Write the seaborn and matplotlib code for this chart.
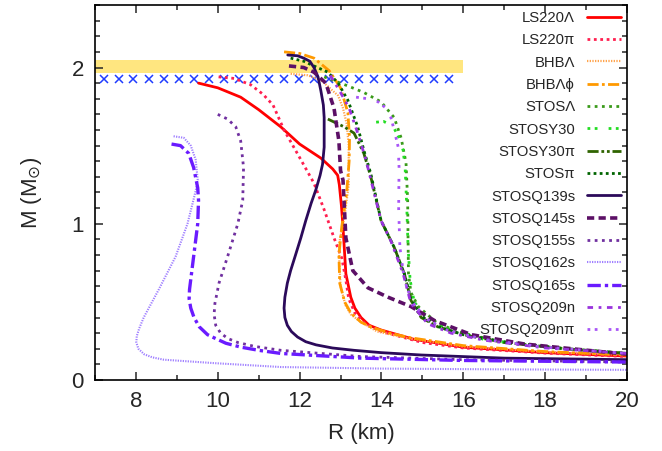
import numpy as np
import pandas as pd
import matplotlib
matplotlib.use("Agg")
import matplotlib.pyplot as plt
import seaborn as sns

# mass-radius curves, R in km, M in solar masses
ls220_lam_R = [9.53, 10.0, 10.56, 11.0, 11.54, 12.0, 12.52, 12.81, 12.93, 12.97, 13.02, 13.06, 13.13, 13.25, 13.35, 13.5, 13.7, 13.99, 14.8, 16.0, 18.0, 20.0]
ls220_lam_M = [1.90, 1.87, 1.81, 1.73, 1.62, 1.51, 1.42, 1.35, 1.31, 1.25, 1.12, 0.98, 0.68, 0.53, 0.46, 0.40, 0.35, 0.32, 0.26, 0.21, 0.175, 0.153]

ls220_pi_R = [10.02, 10.4, 10.8, 11.1, 11.35, 11.62, 12.03, 12.35, 12.6, 12.84, 13.03, 13.13, 13.2, 13.35, 13.6, 14.0, 15.0, 16.0, 18.0, 20.0]
ls220_pi_M = [1.94, 1.93, 1.89, 1.83, 1.76, 1.60, 1.41, 1.26, 1.09, 0.91, 0.78, 0.64, 0.52, 0.43, 0.36, 0.31, 0.24, 0.205, 0.172, 0.15]

bhb_lam_R = [11.78, 12.2, 12.52, 12.94, 13.06, 13.15, 13.2, 13.2, 13.1, 12.97, 12.97, 13.0, 13.12, 13.25, 13.5, 13.9, 14.7, 16.0, 18.0, 20.0]
bhb_lam_M = [1.96, 1.95, 1.92, 1.82, 1.74, 1.64, 1.50, 1.25, 1.05, 0.88, 0.75, 0.60, 0.48, 0.42, 0.37, 0.31, 0.265, 0.215, 0.18, 0.16]

bhb_lamphi_R = [11.62, 12.0, 12.35, 12.72, 13.0, 13.18, 13.22, 13.21, 13.15, 13.03, 12.96, 12.98, 13.1, 13.25, 13.5, 13.74, 14.2, 14.72, 16.0, 18.0, 20.0]
bhb_lamphi_M = [2.10, 2.09, 2.06, 1.98, 1.87, 1.71, 1.55, 1.40, 1.20, 0.98, 0.80, 0.62, 0.50, 0.43, 0.37, 0.34, 0.30, 0.27, 0.22, 0.182, 0.16]

stos_lam_R = [12.6, 12.8, 13.2, 13.57, 13.99, 14.31, 14.48, 14.6, 14.64, 14.65, 14.66, 14.72, 14.9, 15.38, 16.0, 17.0, 18.5, 20.0]
stos_lam_M = [1.94, 1.92, 1.88, 1.84, 1.78, 1.68, 1.55, 1.39, 1.15, 0.90, 0.68, 0.56, 0.47, 0.36, 0.30, 0.24, 0.20, 0.17]

stosy30_R = [13.87, 14.05, 14.17, 14.31, 14.43, 14.53, 14.58, 14.62, 14.65, 14.7, 14.8, 15.1, 15.6, 16.5, 18.0, 20.0]
stosy30_M = [1.65, 1.655, 1.64, 1.61, 1.55, 1.47, 1.35, 1.10, 0.85, 0.64, 0.50, 0.40, 0.33, 0.26, 0.21, 0.17]

stosy30_pi_R = [12.69, 13.09, 13.33, 13.57, 13.74, 13.99, 14.31, 14.56, 14.72, 14.97, 15.38, 16.0, 17.0, 18.5, 20.0]
stosy30_pi_M = [1.67, 1.62, 1.58, 1.45, 1.30, 1.02, 0.85, 0.68, 0.51, 0.40, 0.34, 0.29, 0.24, 0.20, 0.17]

stos_pi_R = [11.78, 12.1, 12.35, 12.69, 12.94, 13.18, 13.42, 13.57, 13.74, 13.99, 14.31, 14.56, 14.72, 14.97, 15.4, 16.0, 17.0, 18.5, 20.0]
stos_pi_M = [2.06, 2.04, 2.01, 1.97, 1.90, 1.79, 1.62, 1.47, 1.32, 1.02, 0.85, 0.68, 0.52, 0.41, 0.34, 0.29, 0.245, 0.20, 0.17]

stosq139s_R = [11.71, 11.95, 12.1, 12.25, 12.35, 12.45, 12.52, 12.58, 12.6, 12.6, 12.56, 12.5, 12.4, 12.28, 12.15, 12.03, 11.9, 11.78, 11.7, 11.64, 11.62, 11.64, 11.7, 11.8, 11.95, 12.15, 12.4, 12.8, 13.33, 14.0, 14.97, 17.0, 20.0]
stosq139s_M = [2.08, 2.075, 2.06, 2.04, 2.0, 1.94, 1.85, 1.76, 1.68, 1.49, 1.38, 1.31, 1.22, 1.13, 1.02, 0.91, 0.80, 0.70, 0.62, 0.53, 0.46, 0.40, 0.35, 0.31, 0.275, 0.245, 0.225, 0.205, 0.19, 0.175, 0.16, 0.14, 0.13]

stosq145s_R = [11.74, 12.1, 12.35, 12.64, 12.84, 12.96, 13.0, 13.06, 13.13, 13.3, 13.67, 14.16, 14.72, 15.3, 16.2, 17.5, 20.0]
stosq145s_M = [2.01, 2.0, 1.97, 1.90, 1.74, 1.53, 1.34, 1.28, 0.91, 0.70, 0.59, 0.53, 0.47, 0.38, 0.29, 0.23, 0.165]

stosq155s_R = [10.0, 10.24, 10.44, 10.56, 10.63, 10.61, 10.49, 10.24, 10.03, 9.93, 9.91, 9.95, 10.07, 10.25, 10.49, 10.9, 11.54, 13.5, 16.0, 20.0]
stosq155s_M = [1.70, 1.67, 1.62, 1.53, 1.36, 1.15, 1.0, 0.79, 0.62, 0.49, 0.42, 0.35, 0.30, 0.265, 0.24, 0.215, 0.19, 0.15, 0.13, 0.115]

stosq162s_R = [8.92, 9.17, 9.34, 9.46, 9.51, 9.46, 9.26, 8.97, 8.56, 8.19, 8.08, 8.02, 8.01, 8.06, 8.2, 8.4, 8.68, 9.91, 11.54, 14.0, 17.0, 20.0]
stosq162s_M = [1.56, 1.55, 1.50, 1.41, 1.28, 1.21, 1.0, 0.79, 0.58, 0.40, 0.33, 0.28, 0.24, 0.20, 0.165, 0.145, 0.13, 0.108, 0.083, 0.073, 0.068, 0.065]

stosq165s_R = [8.87, 9.09, 9.29, 9.41, 9.51, 9.53, 9.51, 9.41, 9.31, 9.3, 9.34, 9.42, 9.55, 9.75, 9.91, 10.2, 10.57, 11.0, 11.54, 13.5, 16.0, 20.0]
stosq165s_M = [1.51, 1.50, 1.45, 1.36, 1.23, 1.15, 1.0, 0.79, 0.58, 0.52, 0.46, 0.40, 0.34, 0.29, 0.27, 0.235, 0.21, 0.19, 0.17, 0.14, 0.125, 0.115]

stosq209n_R = [12.75, 13.0, 13.21, 13.42, 13.62, 13.8, 13.99, 14.23, 14.53, 14.72, 15.13, 15.7, 16.5, 18.0, 20.0]
stosq209n_M = [1.95, 1.84, 1.74, 1.58, 1.41, 1.22, 1.02, 0.89, 0.68, 0.49, 0.36, 0.30, 0.255, 0.205, 0.17]

stosq209npi_R = [13.38, 13.67, 13.92, 14.11, 14.23, 14.31, 14.41, 14.43, 14.42, 14.45, 14.56, 14.75, 15.1, 15.6, 16.5, 18.0, 20.0]
stosq209npi_M = [1.81, 1.80, 1.78, 1.74, 1.68, 1.60, 1.49, 1.36, 1.10, 0.85, 0.64, 0.50, 0.39, 0.32, 0.26, 0.21, 0.17]

labels = ["LS220Λ", "LS220π", "BHBΛ", "BHBΛϕ", "STOSΛ", "STOSY30", "STOSY30π", "STOSπ",
          "STOSQ139s", "STOSQ145s", "STOSQ155s", "STOSQ162s", "STOSQ165s", "STOSQ209n", "STOSQ209nπ"]

# observed pulsar masses
band_R = [7, 16]
band_lo = 1.965
band_hi = 2.045
obs_R = [7.21, 7.58, 7.94, 8.31, 8.68, 9.05, 9.41, 9.78, 10.15, 10.51, 10.88, 11.25,
         11.62, 11.98, 12.35, 12.72, 13.08, 13.45, 13.82, 14.19, 14.55, 14.92, 15.29, 15.66]
obs_M = 1.925

curves = [
    (ls220_lam_R, ls220_lam_M), (ls220_pi_R, ls220_pi_M), (bhb_lam_R, bhb_lam_M),
    (bhb_lamphi_R, bhb_lamphi_M), (stos_lam_R, stos_lam_M), (stosy30_R, stosy30_M),
    (stosy30_pi_R, stosy30_pi_M), (stos_pi_R, stos_pi_M), (stosq139s_R, stosq139s_M),
    (stosq145s_R, stosq145s_M), (stosq155s_R, stosq155s_M), (stosq162s_R, stosq162s_M),
    (stosq165s_R, stosq165s_M), (stosq209n_R, stosq209n_M), (stosq209npi_R, stosq209npi_M),
]

styles = [
    ("#ff0000", "-", 2.0),
    ("#ff1f4f", (0, (1, 1.3)), 2.0),
    ("#ffa54f", (0, (0.6, 0.6)), 1.6),
    ("#ff9900", (0, (4, 1.2, 1, 1.2)), 2.0),
    ("#3a9a1a", (0, (1, 1.6)), 2.0),
    ("#22dd22", (0, (1, 1.6, 1, 4)), 2.0),
    ("#2f6400", (0, (4, 1, 1, 1, 1, 1)), 2.0),
    ("#006400", (0, (1, 1.2)), 2.0),
    ("#2b0a5a", "-", 2.0),
    ("#5c1066", (0, (2, 1.2)), 2.6),
    ("#7030a0", (0, (1, 1.6)), 2.0),
    ("#9f7fff", (0, (0.6, 0.6)), 1.5),
    ("#6a1bff", (0, (4, 1.2, 1, 1.2)), 2.4),
    ("#9933dd", (0, (2, 2, 1, 2)), 2.0),
    ("#a855f7", (0, (1, 1.6, 1, 4)), 2.0),
]

sns.set_theme(style="ticks")
plt.rcParams["font.family"] = ["Liberation Sans", "DejaVu Sans"]
plt.rcParams["mathtext.fontset"] = "dejavusans"

fig = plt.figure(figsize=(6.62, 4.51), dpi=100)
ax = fig.add_axes([95 / 662, 71 / 451, 532 / 662, 375 / 451])

ax.fill_between(band_R, band_lo, band_hi, color="#ffe680", lw=0, zorder=0)
ax.plot(obs_R, [obs_M] * len(obs_R), ls="none", marker="x", ms=6, mew=1.1,
        color="#1f3cff", zorder=1)

for (r, m), lab, (col, ls, lw) in zip(curves, labels, styles):
    df = pd.DataFrame({"R": r, "M": m})
    sns.lineplot(data=df, x="R", y="M", sort=False, estimator=None, ax=ax,
                 color=col, linestyle=ls, lw=lw, label=lab)

ax.set_xlim(7, 20)
ax.set_ylim(0, 2.4)
ax.set_xticks([8, 10, 12, 14, 16, 18, 20])
ax.set_xticks(np.arange(7, 20, 1), minor=True)
ax.set_yticks([0, 1, 2])
ax.set_yticks(np.arange(0, 2.41, 0.1), minor=True)
ax.tick_params(which="both", direction="in", top=True, right=True, width=1.1,
               labelsize=16, pad=8)
ax.tick_params(which="major", length=6)
ax.tick_params(which="minor", length=3.5)
for s in ax.spines.values():
    s.set_linewidth(1.2)
    s.set_color("black")

ax.set_xlabel("R (km)", fontsize=16, labelpad=8)
ax.set_ylabel(r"M (M$_{\odot}$)", fontsize=16, labelpad=20)

ax.legend(loc="upper right", frameon=False, markerfirst=False, alignment="right",
          fontsize=10.7, handlelength=2.3, handletextpad=0.8, labelspacing=0.56,
          borderaxespad=0.2, borderpad=0.2)

fig.savefig("out.png", dpi=100)
